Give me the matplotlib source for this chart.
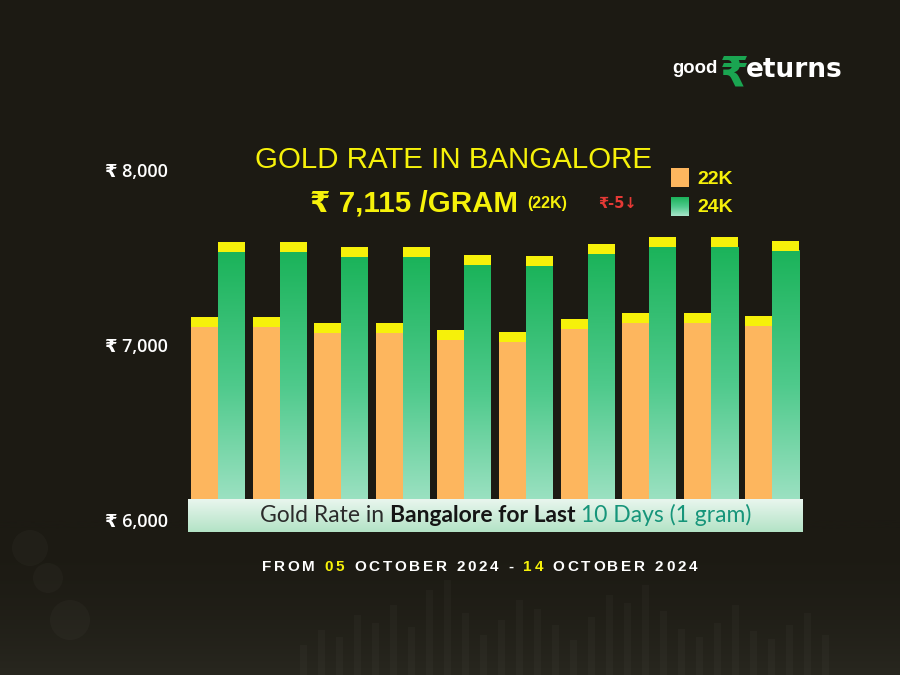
import matplotlib
matplotlib.use('Agg')
import matplotlib.pyplot as plt
import numpy as np
from matplotlib.patches import Rectangle, Circle
from matplotlib.colors import LinearSegmentedColormap
from matplotlib.font_manager import FontProperties

# ---- data ----
days = ['05 Oct', '06 Oct', '07 Oct', '08 Oct', '09 Oct',
        '10 Oct', '11 Oct', '12 Oct', '13 Oct', '14 Oct']
rate_22k = [7158, 7158, 7126, 7126, 7084, 7076, 7147, 7185, 7185, 7167]
rate_24k = [7587, 7587, 7558, 7558, 7514, 7509, 7579, 7615, 7615, 7596]
y_ticks = [6000, 7000, 8000]
y_labels = ['₹ 6,000', '₹ 7,000', '₹ 8,000']
series_names = ['22K', '24K']

# faint stock-chart decoration in the lower background
bg_bars = [30, 45, 38, 60, 52, 70, 48, 85, 95, 62, 40, 55, 75, 66, 50,
           35, 58, 80, 72, 90, 64, 46, 38, 52, 70, 44, 36, 50, 62, 40]

W, H = 900, 675
BG = '#1c1a13'
YELLOW = '#f6f10a'
ORANGE = '#fdb65e'


def fx(x):
    return x / W


def fy(y):
    return 1 - y / H


fig = plt.figure(figsize=(9, 6.75), dpi=100, facecolor=BG)
renderer = fig.canvas.get_renderer()


def text_w(s, fp):
    w1 = renderer.get_text_width_height_descent('X' + s + 'X', fp, ismath=False)[0]
    w0 = renderer.get_text_width_height_descent('XX', fp, ismath=False)[0]
    return w1 - w0


def draw_runs(runs, x0, yb, tracking=0.0):
    x = x0
    for s, color, fp in runs:
        if tracking:
            for ch in s:
                fig.text(fx(x), fy(yb), ch, color=color, fontproperties=fp,
                         va='baseline', ha='left')
                x += text_w(ch, fp) + tracking
        else:
            fig.text(fx(x), fy(yb), s, color=color, fontproperties=fp,
                     va='baseline', ha='left')
            x += text_w(s, fp)
    return x


def fit_size(s, family, weight, width, base=12):
    fp = FontProperties(family=family, weight=weight, size=base)
    return base * width / text_w(s, fp)


# ---- background decoration ----
bg = fig.add_axes([0, 0, 1, 1])
bg.axis('off')
glow = np.linspace(0, 1, 200).reshape(-1, 1) ** 2
bg.imshow(glow, extent=[0, W, H, 520], cmap=LinearSegmentedColormap.from_list(
    'glow', [BG, '#28271f']), aspect='auto', zorder=0)
for i, h in enumerate(bg_bars):
    bg.add_patch(Rectangle((300 + i * 18, H - h), 7, h, color='#ffffff',
                           alpha=0.025, lw=0, zorder=1))
for cx, cy, r in [(30, 548, 18), (48, 578, 15), (70, 620, 20)]:
    bg.add_patch(Circle((cx, cy), r, color='#ffffff', alpha=0.025, lw=0))
bg.set_xlim(0, W)
bg.set_ylim(H, 0)

# ---- main bar axes ----
ax = fig.add_axes([fx(175), fy(520), (850 - 175) / W, 350 / H])
ax.patch.set_alpha(0)
for sp in ax.spines.values():
    sp.set_visible(False)

pitch = 61.6          # px between day groups
val_px = 350 / 2000   # px per rupee
w = 27 / pitch
cap = 10 / val_px
x = np.arange(len(days))
r22 = np.array(rate_22k)
r24 = np.array(rate_24k)

ax.bar(x - w, r22 - cap - 6000, bottom=6000, width=w, align='edge',
       color=ORANGE, lw=0, zorder=2)
ax.bar(x - w, cap, bottom=r22 - cap, width=w, align='edge',
       color=YELLOW, lw=0, zorder=3)

green = LinearSegmentedColormap.from_list(
    'green', ['#a9e5cb', '#4fca8c', '#1bb35a'])
grad = np.linspace(0, 1, 256).reshape(-1, 1)
for xi, v in zip(x, r24):
    ax.imshow(grad, extent=[xi, xi + w, 6000, v - cap], origin='lower',
              cmap=green, aspect='auto', interpolation='bicubic', zorder=2)
ax.bar(x, cap, bottom=r24 - cap, width=w, align='edge',
       color=YELLOW, lw=0, zorder=3)

ax.set_xlim(-(218 - 175) / pitch, (850 - 218) / pitch)
ax.set_ylim(6000, 8000)
ax.set_aspect('auto')
ax.set_xticks([])
ax.set_yticks(y_ticks, y_labels)
ax.tick_params(axis='y', length=0, pad=5, labelcolor='white', labelsize=13)
for t in ax.get_yticklabels():
    t.set_family(['Open Sans', 'DejaVu Sans'])
    t.set_fontweight('semibold')

# ---- caption band ----
band = fig.add_axes([fx(188), fy(532), (803 - 188) / W, 33 / H])
band.imshow(np.linspace(0, 1, 100).reshape(-1, 1),
            cmap=LinearSegmentedColormap.from_list('band', ['#e9f6ee', '#b3e3c6']),
            aspect='auto', extent=[0, 1, 0, 1])
band.axis('off')

fam = ['Lato', 'DejaVu Sans']
band_runs = [('Gold Rate in ', '#2b2b2b', 'normal'),
             ('Bangalore for Last ', '#151515', 'bold'),
             ('10 Days (1 gram)', '#16957a', 'normal')]
fs = 13
tot = sum(text_w(s, FontProperties(family=fam, weight=wt, size=fs)) for s, c, wt in band_runs)
fs = fs * 490 / tot
runs = [(s, c, FontProperties(family=fam, weight=wt, size=fs)) for s, c, wt in band_runs]
draw_runs(runs, 260, 522)

# ---- footer (tracked caps) ----
ffam = ['Liberation Sans', 'DejaVu Sans']
ffp = FontProperties(family=ffam, weight='bold', size=11)
foot = [('FROM ', 'white', ffp), ('05', YELLOW, ffp),
        (' OCTOBER 2024 - ', 'white', ffp), ('14', YELLOW, ffp),
        (' OCTOBER 2024', 'white', ffp)]
nat = sum(text_w(ch, ffp) for s, c, p in foot for ch in s)
nchar = sum(len(s) for s, c, p in foot)
track = (697 - 262 - nat) / (nchar - 1)
draw_runs(foot, 262, 571, tracking=track)

# ---- title ----
tfam = ['Liberation Sans', 'DejaVu Sans']
title = 'GOLD RATE IN BANGALORE'
tfs = fit_size(title, tfam, 'normal', 397)
fig.text(fx(255), fy(168), title, color=YELLOW, ha='left', va='baseline',
         fontproperties=FontProperties(family=tfam, size=tfs))

price = '₹ 7,115 /GRAM'
pfs = fit_size(price, tfam, 'bold', 207)
fig.text(fx(310), fy(212), price, color=YELLOW, ha='left', va='baseline',
         fontproperties=FontProperties(family=tfam, weight='bold', size=pfs))
fig.text(fx(527), fy(208), '(22K)', color=YELLOW, ha='left', va='baseline',
         fontproperties=FontProperties(family=tfam, weight='bold', size=11.5))
fig.text(fx(598), fy(208), '₹-5↓', color='#e53935', ha='left', va='baseline',
         fontproperties=FontProperties(family=['DejaVu Sans'], weight='bold', size=10.5))

# ---- legend ----
fig.add_artist(Rectangle((fx(671), fy(187)), 18 / W, 19 / H,
                         transform=fig.transFigure, color=ORANGE, lw=0))
lg = fig.add_axes([fx(671), fy(216), 18 / W, 19 / H])
lg.imshow(grad, origin='lower', cmap=green, aspect='auto')
lg.axis('off')
lfp = FontProperties(family=tfam, weight='bold', size=14)
fig.text(fx(697), fy(184), series_names[0], color=YELLOW, fontproperties=lfp,
         ha='left', va='baseline')
fig.text(fx(697), fy(212), series_names[1], color=YELLOW, fontproperties=lfp,
         ha='left', va='baseline')

# ---- logo ----
gfam = ['Liberation Sans Narrow', 'Liberation Sans']
gfs = fit_size('good', gfam, 'bold', 45)
fig.text(fx(672), fy(73), 'good', color='white', ha='left', va='baseline',
         fontproperties=FontProperties(family=gfam, weight='bold', size=gfs))
fig.text(fx(720), fy(86), '₹', color='#1aa551', ha='left', va='baseline',
         fontproperties=FontProperties(family=['DejaVu Sans'], weight='bold', size=30))
fig.text(fx(746), fy(77), 'eturns', color='white', ha='left', va='baseline',
         fontproperties=FontProperties(family=['DejaVu Sans'], weight='bold', size=19))

fig.savefig('out.png', dpi=100, facecolor=BG)
